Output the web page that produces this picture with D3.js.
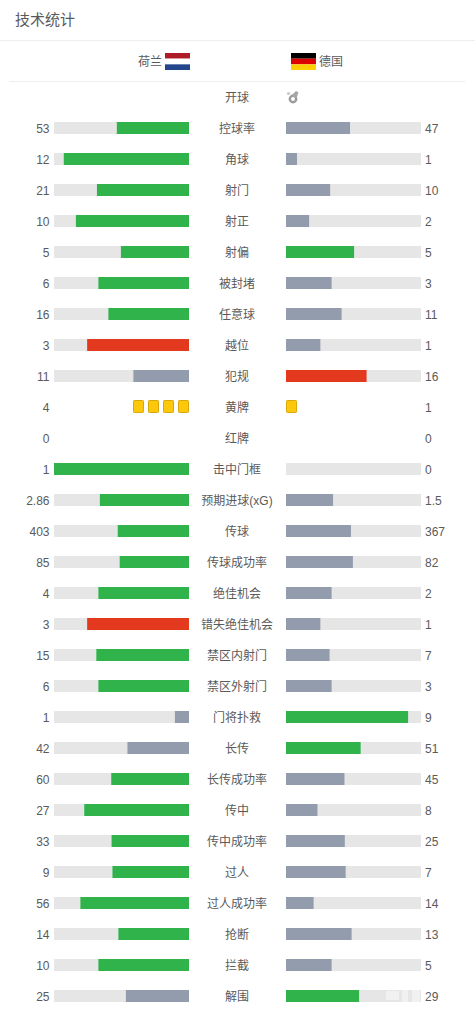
<!DOCTYPE html>
<html><head><meta charset="utf-8">
<script src="https://cdn.jsdelivr.net/npm/d3@7/dist/d3.min.js"></script>
<style>html,body{margin:0;padding:0;background:#fff}svg{display:block}
text{font-family:"Liberation Sans","Noto Sans CJK SC",sans-serif;fill:#5a5a5a}</style></head>
<body><div id="c"></div>
<script>
const title="技术统计";
const teams=["荷兰","德国"];
const kickoff="开球";
const categories=["控球率","角球","射门","射正","射偏","被封堵","任意球","越位","犯规","黄牌","红牌","击中门框","预期进球(xG)","传球","传球成功率","绝佳机会","错失绝佳机会","禁区内射门","禁区外射门","门将扑救","长传","长传成功率","传中","传中成功率","过人","过人成功率","抢断","拦截","解围"];
const homeValues=[53,12,21,10,5,6,16,3,11,4,0,1,2.86,403,85,4,3,15,6,1,42,60,27,33,9,56,14,10,25];
const awayValues=[47,1,10,2,5,3,11,1,16,1,0,0,1.5,367,82,2,1,7,3,9,51,45,8,25,7,14,13,5,29];
const badStats=["越位","犯规","错失绝佳机会"];
const cardStats=["黄牌","红牌"];
const colors={track:"#e6e6e6",win:"#2fb34a",lose:"#929cac",bad:"#e2391f",card:"#fdc80b",cardEdge:"#d9a90c"};

const W=475,H=1012;
const svg=d3.select("#c").append("svg").attr("width",W).attr("height",H);
const y=d3.scalePoint().domain(categories).range([128,996]);
const share=d3.scaleLinear().domain([0,1]).range([0,135]);
const barW=f=>f>0?Math.min(share(1),share(f)+0.6):0;
const cardStep=d3.scaleLinear().domain([0,1]).range([0,15]);
const LL=54,LR=189,RL=286,BH=12;

svg.append("text").attr("x",15).attr("y",25).attr("font-size",15).text(title);
svg.append("line").attr("x1",0).attr("x2",W).attr("y1",40.5).attr("y2",40.5).attr("stroke","#eee");
svg.append("line").attr("x1",9).attr("x2",465).attr("y1",81.5).attr("y2",81.5).attr("stroke","#eee");
svg.append("text").attr("x",162).attr("y",65.5).attr("text-anchor","end").attr("font-size",12).text(teams[0]);
svg.append("text").attr("x",319).attr("y",65.5).attr("font-size",12).text(teams[1]);
["#ae1c28","#ffffff","#21468b"].forEach((c,i)=>svg.append("rect").attr("x",165).attr("y",53+i*5.67).attr("width",25).attr("height",5.67).attr("fill",c));
["#000000","#dd0000","#ffce00"].forEach((c,i)=>svg.append("rect").attr("x",291).attr("y",53+i*5.67).attr("width",25).attr("height",5.67).attr("fill",c));
svg.append("text").attr("x",237).attr("y",101.5).attr("text-anchor","middle").attr("font-size",12).text(kickoff);
// whistle icon
const wh=svg.append("g").attr("transform","translate(293,99)");
wh.append("circle").attr("r",3.2).attr("fill","none").attr("stroke","#9a9a9a").attr("stroke-width",2.4);
wh.append("path").attr("d","M-2 -3 L3 -8 L5.5 -6.5 L3.5 -1Z").attr("fill","#a6a6a6");
wh.append("circle").attr("cx",-4.5).attr("cy",-5.5).attr("r",1.6).attr("fill","#c8c8c8");

const rows=svg.selectAll("g.row").data(categories.map((c,i)=>({c,h:homeValues[i],a:awayValues[i]}))).join("g").attr("class","row");
rows.append("text").attr("x",237).attr("y",d=>y(d.c)+4.5).attr("text-anchor","middle").attr("font-size",12).text(d=>d.c);
rows.append("text").attr("x",49.5).attr("y",d=>y(d.c)+4.5).attr("text-anchor","end").attr("font-size",12).text(d=>d.h);
rows.append("text").attr("x",425).attr("y",d=>y(d.c)+4.5).attr("font-size",12).text(d=>d.a);

const col=(d,mine,other)=>mine<other?colors.lose:(badStats.includes(d.c)?colors.bad:colors.win);
const barRows=rows.filter(d=>!cardStats.includes(d.c));
barRows.append("rect").attr("x",LL).attr("y",d=>y(d.c)-BH/2).attr("width",share(1)).attr("height",BH).attr("fill",colors.track);
barRows.append("rect").attr("x",RL).attr("y",d=>y(d.c)-BH/2).attr("width",share(1)).attr("height",BH).attr("fill",colors.track);
barRows.append("rect").attr("x",d=>LR-barW(d.h/(d.h+d.a))).attr("y",d=>y(d.c)-BH/2).attr("width",d=>barW(d.h/(d.h+d.a))).attr("height",BH).attr("fill",d=>col(d,d.h,d.a));
barRows.append("rect").attr("x",RL).attr("y",d=>y(d.c)-BH/2).attr("width",d=>barW(d.a/(d.h+d.a))).attr("height",BH).attr("fill",d=>col(d,d.a,d.h));

const cardRows=rows.filter(d=>cardStats.includes(d.c));
cardRows.each(function(d){
  const g=d3.select(this);
  g.selectAll("rect.h").data(d3.range(d.h)).join("rect").attr("class","h")
    .attr("x",i=>LR-10.5-cardStep(i)).attr("y",y(d.c)-6.5).attr("width",10).attr("height",12).attr("rx",.8)
    .attr("fill",colors.card).attr("stroke",colors.cardEdge);
  g.selectAll("rect.a").data(d3.range(d.a)).join("rect").attr("class","a")
    .attr("x",i=>RL+.5+cardStep(i)).attr("y",y(d.c)-6.5).attr("width",10).attr("height",12).attr("rx",.8)
    .attr("fill",colors.card).attr("stroke",colors.cardEdge);
});
// faint watermark smudge in the bottom-right corner
const wm=svg.append("g").attr("fill","#fff").attr("opacity",.45);
wm.append("rect").attr("x",386).attr("y",991).attr("width",13).attr("height",9);
wm.append("rect").attr("x",402).attr("y",990).attr("width",6).attr("height",12);
wm.append("rect").attr("x",412).attr("y",990).attr("width",8).attr("height",12);
</script></body></html>
